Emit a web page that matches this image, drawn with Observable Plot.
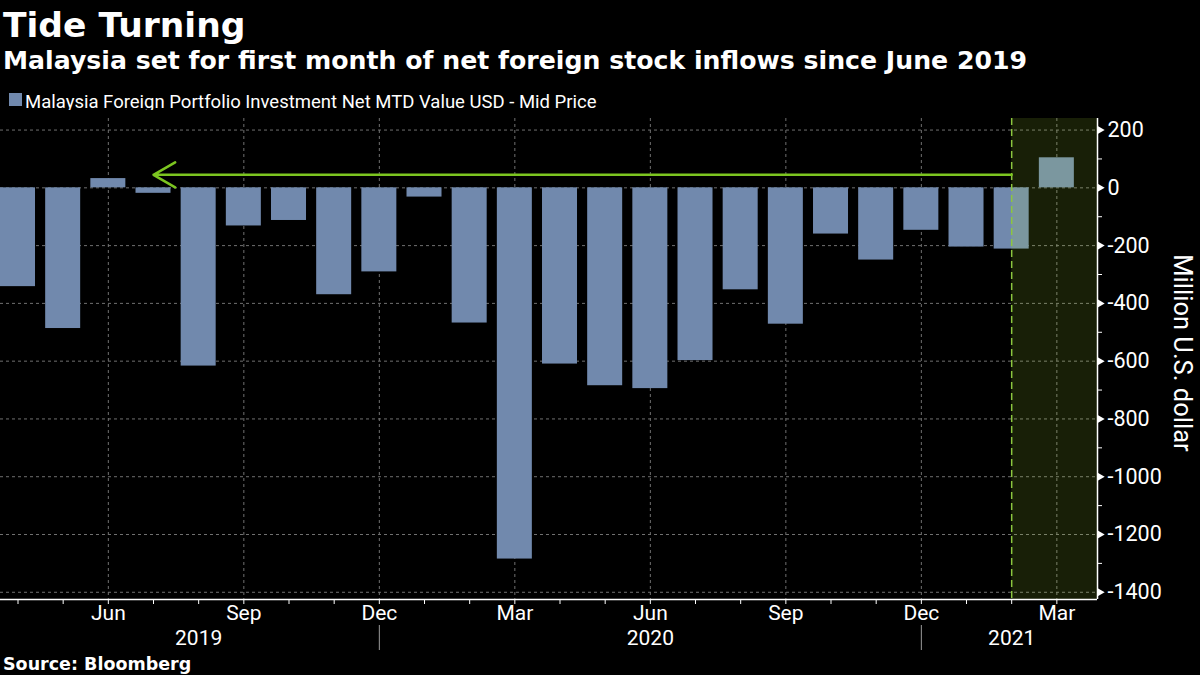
<!DOCTYPE html>
<html>
<head>
<meta charset="utf-8">
<script src="https://cdn.jsdelivr.net/npm/d3@7"></script>
<script src="https://cdn.jsdelivr.net/npm/@observablehq/plot@0.6"></script>
<style>
  html, body { margin: 0; padding: 0; background: #000; width: 1200px; height: 675px; overflow: hidden; }
  body { position: relative; color: #fff; }
  .t { position: absolute; white-space: nowrap; line-height: 1; }
  #title { left: 3px; top: 5px; font: bold 34.5px "DejaVu Sans"; }
  #subtitle { left: 3px; top: 46px; font: bold 25.2px "DejaVu Sans"; }
  #legend { left: 25px; top: 91.4px; font: 18.5px Roboto; }
  #swatch { position: absolute; left: 9px; top: 93px; width: 13px; height: 13px; background: #7189ad; }
  #source { left: 3px; top: 654px; font: bold 17.5px "DejaVu Sans"; }
  #chart { position: absolute; left: 0; top: 110px; }
</style>
</head>
<body>
<div id="title" class="t">Tide Turning</div>
<div id="subtitle" class="t">Malaysia set for first month of net foreign stock inflows since June 2019</div>
<div id="swatch"></div>
<div id="legend" class="t">Malaysia Foreign Portfolio Investment Net MTD Value USD - Mid Price</div>
<div id="chart"></div>
<div id="source" class="t">Source: Bloomberg</div>
<script>
// Months Apr 2019 .. Mar 2021
const months = ["Apr","May","Jun","Jul","Aug","Sep","Oct","Nov","Dec",
                "Jan","Feb","Mar","Apr","May","Jun","Jul","Aug","Sep","Oct","Nov","Dec",
                "Jan","Feb","Mar"];
const years = [2019,2019,2019,2019,2019,2019,2019,2019,2019,
               2020,2020,2020,2020,2020,2020,2020,2020,2020,2020,2020,2020,
               2021,2021,2021];
// Net foreign portfolio flows, million USD
const values = [-342,-487,32,-19,-617,-132,-113,-370,-291,
                -32,-468,-1285,-610,-685,-695,-598,-353,-472,-160,-250,-147,
                -205,-212,104];
const quarterMonths = ["Jun","Sep","Dec","Mar"];
const yearLabels = [{idx: 4, label: "2019"}, {idx: 14, label: "2020"}, {idx: 22, label: "2021"}];
const yearSeparators = [8, 20];
const majorTicks = [200, 0, -200, -400, -600, -800, -1000, -1200, -1400];
const minorTicks = [100, -100, -300, -500, -700, -900, -1100, -1300];
const highlight = [{from: 22, to: 23.9}];
const arrowNote = [{from: 22, to: 3, level: 45}];

const xDomain = [-0.3875, 23.9];
const yDomain = [-1425, 240];
const halfBar = 0.3875;

const data = values.map((v, i) => ({i, month: months[i], year: years[i], v}));
const allIdx = data.map(d => d.i);
const quarterIdx = data.filter(d => quarterMonths.includes(d.month)).map(d => d.i);

const barColor = "#7189ad";
const gridStyle = {stroke: "#707070", strokeDasharray: "3,3", strokeWidth: 1};

const chart = Plot.plot({
  width: 1200,
  height: 560,
  marginTop: 8,
  marginBottom: 71,
  marginLeft: 0,
  marginRight: 103,
  style: {background: "#000", color: "#fff", fontFamily: "Roboto", overflow: "visible"},
  x: {type: "linear", domain: xDomain},
  y: {domain: yDomain},
  marks: [
    Plot.ruleY(majorTicks, {y: d => d, ...gridStyle}),
    Plot.ruleX(quarterIdx, {x: d => d, ...gridStyle}),
    Plot.rectY(data, {x1: d => d.i - halfBar, x2: d => d.i + halfBar, y1: 0, y2: "v", fill: barColor}),
    Plot.rect(highlight, {x1: "from", x2: "to", fill: "#c8ff3c", fillOpacity: 0.12}),
    Plot.ruleX([highlight[0].from], {x: d => d, stroke: "#8cc63f", strokeDasharray: "7,4", strokeWidth: 1.5}),
    Plot.arrow(arrowNote, {x1: "from", x2: "to", y1: "level", y2: "level", stroke: "#7cc520", strokeWidth: 2.5, headLength: 15, headAngle: 60}),
    Plot.ruleY([yDomain[0]], {y: d => d, stroke: "#fff", strokeWidth: 1.5}),
    Plot.ruleX([xDomain[1]], {x: d => d, stroke: "#fff", strokeWidth: 1.5}),
    Plot.axisX({ticks: allIdx, tickSize: 5, tickPadding: 1, fontSize: 21, label: null,
                tickFormat: i => quarterIdx.includes(i) ? months[i] : ""}),
    Plot.axisX({ticks: yearSeparators, tickSize: 25, dy: 26, tickFormat: () => "", label: null, stroke: "#9a9a9a"}),
    Plot.text(yearLabels, {x: "idx", text: "label", frameAnchor: "bottom", lineAnchor: "top", dy: 31, fontSize: 21, fill: "#fff"}),
    Plot.axisY({ticks: minorTicks, anchor: "right", tickSize: 4, tickFormat: () => "", label: null}),
    Plot.dot(majorTicks, {y: d => d, frameAnchor: "right", dx: 2.5, symbol: "triangle", rotate: 90, r: 3, fill: "#fff", stroke: null}),
    Plot.text(majorTicks, {y: d => d, frameAnchor: "right", dx: 10, textAnchor: "start", text: d => String(d), fontSize: 21.5, fill: "#fff"}),
    Plot.text(["Million U.S. dollar"], {frameAnchor: "right", textAnchor: "middle", lineAnchor: "middle", text: d => d, rotate: 90, dx: 85, dy: -6, fontSize: 25.5, fill: "#fff"})
  ]
});
document.getElementById("chart").appendChild(chart);
</script>
</body>
</html>
